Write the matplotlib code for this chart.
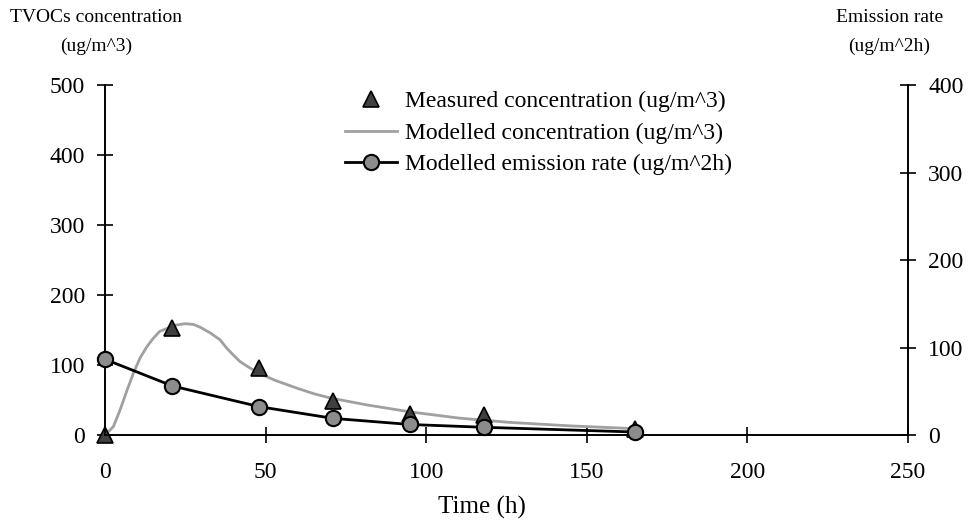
import matplotlib
matplotlib.use('Agg')
import matplotlib.pyplot as plt

plt.rcParams['font.family'] = ['Liberation Serif', 'DejaVu Serif']

# measured points (h, ug/m^3)
time_meas = [0, 21, 48, 71, 95, 118, 165]
conc_meas = [0, 153, 96, 48, 30, 28, 8]

# modelled concentration curve
time_model = [0, 2.6, 4.7, 6.7, 8.8, 10.9, 13, 15, 17, 19.2, 22, 25, 27.5, 29.6, 32.7,
              35.8, 37.9, 40, 42, 45, 49, 53, 59.7, 65, 70, 81.5, 95, 110.5, 126, 145, 165]
conc_model = [0, 12, 36, 62, 88, 110, 126, 138, 148, 152, 157, 159, 158, 154, 146,
              136, 124, 114, 105, 96, 86, 78, 67, 59, 53, 43, 33, 24, 18, 13, 9]

# modelled emission rate (ug/m^2h)
emis_rate = [86.5, 56, 32.4, 19, 12, 8.8, 3.4]

xticks = [0, 50, 100, 150, 200, 250]
yticks_left = [0, 100, 200, 300, 400, 500]
yticks_right = [0, 100, 200, 300, 400]

fig = plt.figure(figsize=(9.69, 5.29), dpi=100)
ax = fig.add_axes([0.1084, 0.1777, 0.8286, 0.6616])
ax2 = ax.twinx()

gray_line, = ax.plot(time_model, conc_model, color='#a0a0a0', lw=2, zorder=2,
                     label='Modelled concentration (ug/m^3)')
tri, = ax.plot(time_meas, conc_meas, ls='none', marker='^', ms=11,
               mfc='#404040', mec='black', mew=1.2, clip_on=False, zorder=3,
               label='Measured concentration (ug/m^3)')
emis, = ax2.plot(time_meas, emis_rate, color='black', lw=2, marker='o', ms=11,
                 mfc='#8c8c8c', mec='black', mew=1.5, clip_on=False, zorder=4,
                 label='Modelled emission rate (ug/m^2h)')

ax.set_xlim(0, 250)
ax.set_ylim(0, 500)
ax2.set_ylim(0, 400)
ax.set_xticks(xticks)
ax.set_yticks(yticks_left)
ax2.set_yticks(yticks_right)

for a in (ax, ax2):
    a.spines['top'].set_visible(False)
    for s in a.spines.values():
        s.set_linewidth(1.2)
ax.tick_params(axis='x', direction='inout', length=11.5, width=1.2,
               labelsize=17, pad=14)
ax.tick_params(axis='y', direction='inout', length=11, width=1.2,
               labelsize=17, pad=9)
ax2.tick_params(axis='y', direction='inout', length=11, width=1.2,
                labelsize=17, pad=9)

ax.set_xlabel('Time (h)', fontsize=18)
ax.xaxis.set_label_coords(0.47, -0.175)

fig.text(0.099, 0.966, 'TVOCs concentration', ha='center', va='center', fontsize=14)
fig.text(0.099, 0.913, '(ug/m^3)', ha='center', va='center', fontsize=14)
fig.text(0.918, 0.966, 'Emission rate', ha='center', va='center', fontsize=14)
fig.text(0.918, 0.913, '(ug/m^2h)', ha='center', va='center', fontsize=14)

ax2.legend(handles=[tri, gray_line, emis], loc='upper left',
           bbox_to_anchor=(0.346, 0.846), bbox_transform=fig.transFigure,
           frameon=False, fontsize=17, handlelength=2.2, handletextpad=0.34,
           labelspacing=0.42, borderaxespad=0)

fig.savefig('out.png', dpi=100)
